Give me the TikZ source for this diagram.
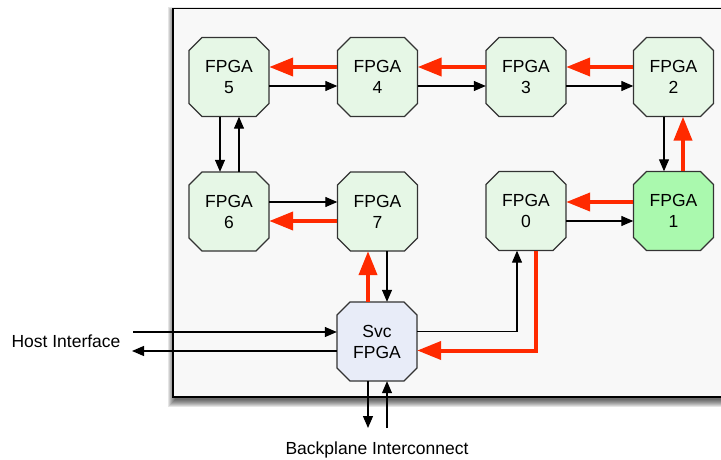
\documentclass[tikz,border=0pt]{standalone}
\usepackage{fontspec}
\setmainfont{Liberation Sans}
\usetikzlibrary{arrows.meta,calc}
\definecolor{nodefill}{HTML}{E6F7E6}
\definecolor{hotfill}{HTML}{AAF9AE}
\definecolor{svcfill}{HTML}{E8ECF8}
\definecolor{bgfill}{HTML}{F8F8F8}
\definecolor{redline}{HTML}{FF2A00}
\definecolor{edgecol}{HTML}{333333}
\newcommand\octnode[5]{%
  \filldraw[octline,fill=#4] (#2-27,#3-39.5) -- (#2+27,#3-39.5) -- (#2+40,#3-26.5) -- (#2+40,#3+26.5) -- (#2+27,#3+39.5) -- (#2-27,#3+39.5) -- (#2-40,#3+26.5) -- (#2-40,#3-26.5) -- cycle;
  \node[fpgatext] (#1) at (#2,#3) {#5};}
\begin{document}
\begin{tikzpicture}[x=1pt,y=-1pt,
  octline/.style={draw=edgecol,line width=1.2pt},
  fpgatext/.style={inner sep=0pt,minimum width=80pt,minimum height=79pt,align=center,font=\fontsize{17.5}{21}\selectfont},
  blk/.style={draw=black,line width=1.2pt,-{Triangle[length=12pt,width=10pt]}},
  hot/.style={draw=redline,line width=4pt,-{Triangle[length=24pt,width=18pt]}},
  lbl/.style={font=\fontsize{17.5}{21}\selectfont}]
\useasboundingbox (0,0) rectangle (721,460);
\clip (0,0) rectangle (721,460);
% board with shadow
\foreach \s in {0,1,...,7}
  \fill[black,opacity=0.1] (173+2-\s,8.7+5-\s) rectangle (735+\s,397+3+\s);
\filldraw[draw=black,line width=1.5pt,fill=bgfill] (173,8.7) rectangle (735,397);
% nodes
\octnode{n5}{229}{77}{nodefill}{FPGA\\5}
\octnode{n4}{377.5}{77}{nodefill}{FPGA\\4}
\octnode{n3}{526}{77}{nodefill}{FPGA\\3}
\octnode{n2}{673.5}{77}{nodefill}{FPGA\\2}
\octnode{n6}{229}{211.5}{nodefill}{FPGA\\6}
\octnode{n7}{377.5}{211.5}{nodefill}{FPGA\\7}
\octnode{n0}{526}{211}{nodefill}{FPGA\\0}
\octnode{n1}{673.5}{211}{hotfill}{FPGA\\1}
\octnode{svc}{377}{341.5}{svcfill}{Svc\\FPGA}
% top row
\draw[hot] ([yshift=10pt]n4.west) -- ([yshift=10pt]n5.east);
\draw[hot] ([yshift=10pt]n3.west) -- ([yshift=10pt]n4.east);
\draw[hot] ([yshift=10pt]n2.west) -- ([yshift=10pt]n3.east);
\draw[blk] ([yshift=-9pt]n5.east) -- ([yshift=-9pt]n4.west);
\draw[blk] ([yshift=-9pt]n4.east) -- ([yshift=-9pt]n3.west);
\draw[blk] ([yshift=-9pt]n3.east) -- ([yshift=-9pt]n2.west);
% verticals
\draw[blk] ([xshift=-9pt]n5.south) -- ([xshift=-9pt]n6.north);
\draw[blk] ([xshift=10pt]n6.north) -- ([xshift=10pt]n5.south);
\draw[blk] ([xshift=-9.5pt]n2.south) -- ([xshift=-9.5pt]n1.north);
\draw[hot] ([xshift=9.5pt]n1.north) -- ([xshift=9.5pt]n2.south);
% second row
\draw[hot] ([yshift=9pt]n1.west) -- ([yshift=9pt]n0.east);
\draw[blk] ([yshift=-10pt]n0.east) -- ([yshift=-10pt]n1.west);
\draw[blk] ([yshift=9.5pt]n6.east) -- ([yshift=9.5pt]n7.west);
\draw[hot] ([yshift=-9.5pt]n7.west) -- ([yshift=-9.5pt]n6.east);
% svc links
\draw[hot] ([xshift=-9pt]svc.north) -- ([xshift=-9pt]svc.north |- n7.south);
\draw[blk] ([xshift=10pt]svc.north |- n7.south) -- ([xshift=10pt]svc.north);
\draw[blk] ([yshift=10pt]svc.east) -| ([xshift=-9pt]n0.south);
\draw[hot] ([xshift=10pt]n0.south) |- ([yshift=-9pt]svc.east);
% host interface
\coordinate (hin) at (133,332);
\coordinate (hout) at (132,351);
\draw[blk] (hin) -- (hin -| svc.west);
\draw[blk] (hout -| svc.west) -- (hout);
\node[lbl] (host) at (66,341) {Host Interface};
% backplane
\coordinate (bpdown) at (368,428);
\coordinate (bpup) at (387,428);
\draw[blk] (bpdown |- svc.south) -- (bpdown);
\draw[blk] (bpup) -- (bpup |- svc.south);
\node[lbl] (bp) at (377,450) {Backplane Interconnect};
\end{tikzpicture}
\end{document}
